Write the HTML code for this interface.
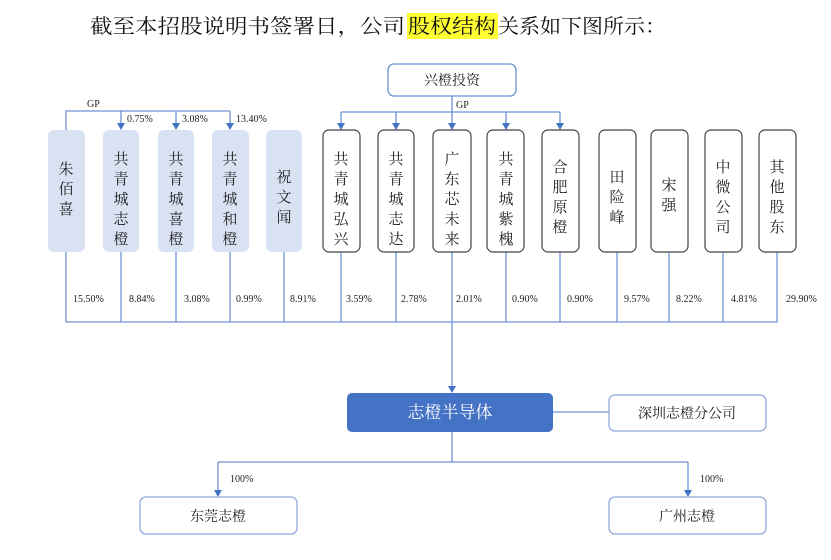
<!DOCTYPE html>
<html><head><meta charset="utf-8"><style>
body{margin:0;background:#fff;width:831px;height:560px;overflow:hidden}
svg{display:block}
.t{font-family:"Liberation Serif","Noto Serif CJK SC",serif;}
</style></head><body>
<svg width="831" height="560" xmlns="http://www.w3.org/2000/svg">
<rect x="407" y="13" width="91" height="26" fill="#ffff33"/>
<g class="t" font-size="20" fill="#111">
<text x="90" y="33" textLength="315" lengthAdjust="spacingAndGlyphs">截至本招股说明书签署日，公司</text>
<text x="408" y="33" textLength="88" lengthAdjust="spacingAndGlyphs">股权结构</text>
<text x="498" y="33" textLength="168" lengthAdjust="spacingAndGlyphs">关系如下图所示：</text>
</g>
<g fill="none" stroke="#6f91d6" stroke-width="1.3">
<path d="M66,130 V111 H230"/>
<path d="M121,111 V124 M176,111 V124 M230,111 V124"/>
<path d="M341,112 H560 M452,96 V112"/>
<path d="M341,112 V124 M396,112 V124 M452,112 V124 M506,112 V124 M560,112 V124"/>
<path d="M66,252 V322 H777 M121,252 V322 M176,252 V322 M230,252 V322 M284,252 V322 M341,252 V322 M396,252 V322 M452,252 V322 M506,252 V322 M560,252 V322 M617,252 V322 M669,252 V322 M723,252 V322 M777,252 V322"/>
<path d="M452,322 V387"/>
<path d="M553,412 H609"/>
<path d="M452,432 V462 M218,462 H688"/>
<path d="M218,462 V491 M688,462 V491"/>
</g>
<g fill="#4472c4">
<path d="M117,123 h8 l-4,7z"/><path d="M172,123 h8 l-4,7z"/><path d="M226,123 h8 l-4,7z"/>
<path d="M337,123 h8 l-4,7z"/><path d="M392,123 h8 l-4,7z"/><path d="M448,123 h8 l-4,7z"/><path d="M502,123 h8 l-4,7z"/><path d="M556,123 h8 l-4,7z"/>
<path d="M448,386 h8 l-4,7z"/>
<path d="M214,490 h8 l-4,7z"/><path d="M684,490 h8 l-4,7z"/>
</g>
<g class="t" font-size="10" fill="#222">
<text x="87" y="107">GP</text><text x="127" y="122">0.75%</text><text x="182" y="122">3.08%</text><text x="236" y="122">13.40%</text>
<text x="456" y="108">GP</text>
<text x="73" y="302">15.50%</text><text x="129" y="302">8.84%</text><text x="184" y="302">3.08%</text><text x="236" y="302">0.99%</text><text x="290" y="302">8.91%</text><text x="346" y="302">3.59%</text><text x="401" y="302">2.78%</text><text x="456" y="302">2.01%</text><text x="512" y="302">0.90%</text><text x="567" y="302">0.90%</text><text x="624" y="302">9.57%</text><text x="676" y="302">8.22%</text><text x="731" y="302">4.81%</text><text x="786" y="302">29.90%</text>
<text x="230" y="482">100%</text><text x="700" y="482">100%</text>
</g>
<rect x="388" y="64" width="128" height="32" rx="6" fill="#fff" stroke="#6f91d6" stroke-width="1.3"/>
<text class="t" x="452" y="85" font-size="14" text-anchor="middle" fill="#222">兴橙投资</text>
<g fill="#d9e2f3">
<rect x="48" y="130" width="37" height="122" rx="6"/><rect x="103" y="130" width="36" height="122" rx="6"/><rect x="158" y="130" width="36" height="122" rx="6"/><rect x="212" y="130" width="37" height="122" rx="6"/><rect x="266" y="130" width="36" height="122" rx="6"/>
</g>
<g fill="#fff" stroke="#444" stroke-width="1.2">
<rect x="323" y="130" width="37" height="122" rx="6"/><rect x="378" y="130" width="36" height="122" rx="6"/><rect x="433" y="130" width="38" height="122" rx="6"/><rect x="487" y="130" width="37" height="122" rx="6"/><rect x="542" y="130" width="37" height="122" rx="6"/><rect x="599" y="130" width="37" height="122" rx="6"/><rect x="651" y="130" width="37" height="122" rx="6"/><rect x="705" y="130" width="37" height="122" rx="6"/><rect x="759" y="130" width="37" height="122" rx="6"/>
</g>
<g class="t" font-size="15" fill="#222" text-anchor="middle">
<text><tspan x="66" y="174">朱</tspan><tspan x="66" y="194">佰</tspan><tspan x="66" y="214">喜</tspan></text>
<text><tspan x="121" y="164">共</tspan><tspan x="121" y="184">青</tspan><tspan x="121" y="204">城</tspan><tspan x="121" y="224">志</tspan><tspan x="121" y="244">橙</tspan></text>
<text><tspan x="176" y="164">共</tspan><tspan x="176" y="184">青</tspan><tspan x="176" y="204">城</tspan><tspan x="176" y="224">喜</tspan><tspan x="176" y="244">橙</tspan></text>
<text><tspan x="230" y="164">共</tspan><tspan x="230" y="184">青</tspan><tspan x="230" y="204">城</tspan><tspan x="230" y="224">和</tspan><tspan x="230" y="244">橙</tspan></text>
<text><tspan x="284" y="182">祝</tspan><tspan x="284" y="202">文</tspan><tspan x="284" y="222">闻</tspan></text>
<text><tspan x="341" y="164">共</tspan><tspan x="341" y="184">青</tspan><tspan x="341" y="204">城</tspan><tspan x="341" y="224">弘</tspan><tspan x="341" y="244">兴</tspan></text>
<text><tspan x="396" y="164">共</tspan><tspan x="396" y="184">青</tspan><tspan x="396" y="204">城</tspan><tspan x="396" y="224">志</tspan><tspan x="396" y="244">达</tspan></text>
<text><tspan x="452" y="164">广</tspan><tspan x="452" y="184">东</tspan><tspan x="452" y="204">芯</tspan><tspan x="452" y="224">未</tspan><tspan x="452" y="244">来</tspan></text>
<text><tspan x="506" y="164">共</tspan><tspan x="506" y="184">青</tspan><tspan x="506" y="204">城</tspan><tspan x="506" y="224">紫</tspan><tspan x="506" y="244">槐</tspan></text>
<text><tspan x="560" y="172">合</tspan><tspan x="560" y="192">肥</tspan><tspan x="560" y="212">原</tspan><tspan x="560" y="232">橙</tspan></text>
<text><tspan x="617" y="182">田</tspan><tspan x="617" y="202">险</tspan><tspan x="617" y="222">峰</tspan></text>
<text><tspan x="669" y="190">宋</tspan><tspan x="669" y="210">强</tspan></text>
<text><tspan x="723" y="172">中</tspan><tspan x="723" y="192">微</tspan><tspan x="723" y="212">公</tspan><tspan x="723" y="232">司</tspan></text>
<text><tspan x="777" y="172">其</tspan><tspan x="777" y="192">他</tspan><tspan x="777" y="212">股</tspan><tspan x="777" y="232">东</tspan></text>
</g>
<rect x="347" y="393" width="206" height="39" rx="5" fill="#4472c4"/>
<text class="t" x="450" y="418" font-size="17" text-anchor="middle" fill="#fff">志橙半导体</text>
<g fill="#fff" stroke="#8faadc" stroke-width="1.3">
<rect x="609" y="395" width="157" height="36" rx="6"/><rect x="140" y="497" width="157" height="37" rx="6"/><rect x="609" y="497" width="157" height="37" rx="6"/>
</g>
<g class="t" font-size="14" fill="#222" text-anchor="middle">
<text x="687" y="418">深圳志橙分公司</text><text x="218" y="521">东莞志橙</text><text x="687" y="521">广州志橙</text>
</g>
</svg>
</body></html>
